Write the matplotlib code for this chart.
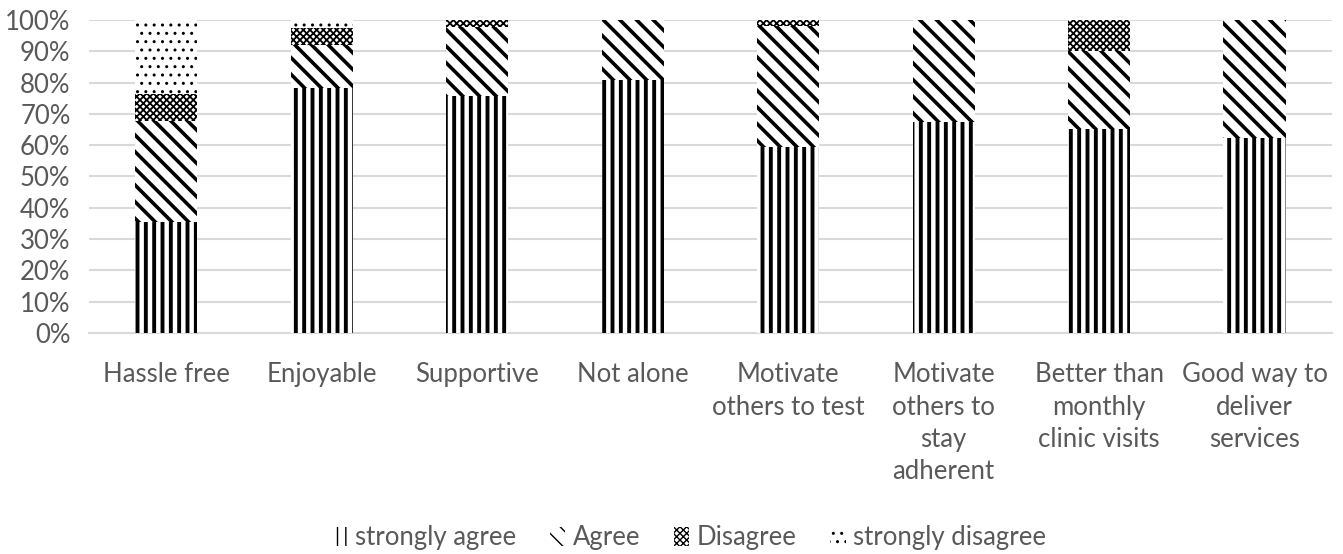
import matplotlib.pyplot as plt
import numpy as np

# categories and stacked percentages
categories = ["Hassle free", "Enjoyable", "Supportive", "Not alone",
              "Motivate\nothers to test", "Motivate\nothers to\nstay\nadherent",
              "Better than\nmonthly\nclinic visits", "Good way to\ndeliver\nservices"]
strongly_agree = [35.3, 78.3, 75.6, 80.8, 59.5, 67.5, 65.0, 62.2]
agree = [32.4, 13.8, 22.2, 19.2, 38.5, 32.5, 25.0, 37.8]
disagree = [8.8, 5.3, 2.2, 0.0, 2.0, 0.0, 10.0, 0.0]
strongly_disagree = [23.5, 2.6, 0.0, 0.0, 0.0, 0.0, 0.0, 0.0]

series_names = ["strongly agree", "Agree", "Disagree", "strongly disagree"]
hatches = ["||", "\\\\", "xxxxx", ".."]
hatch_lw = [2.8, 2.6, 1.3, 1.0]

plt.rcParams['font.family'] = ['Lato', 'DejaVu Sans']
plt.rcParams['hatch.color'] = 'black'

fig = plt.figure(figsize=(13.43, 5.54), dpi=100)
ax = fig.add_axes([0.066, 0.399, 0.926, 0.565])

x = np.arange(len(categories))
bottom = np.zeros(len(categories))
for vals, name, h, lw in zip([strongly_agree, agree, disagree, strongly_disagree],
                             series_names, hatches, hatch_lw):
    with plt.rc_context({'hatch.linewidth': lw}):
        ax.bar(x, vals, width=0.4, bottom=bottom, color='white', edgecolor='black',
               linewidth=0, hatch=h, label=name, zorder=3)
    bottom += np.array(vals)

ax.set_xlim(-0.5, len(categories) - 0.5)
ax.set_ylim(0, 100)
ax.set_yticks(range(0, 101, 10))
ax.set_yticklabels([f"{v}%" for v in range(0, 101, 10)])
ax.set_xticks(x)
ax.set_xticklabels(categories, linespacing=1.37)

ax.grid(axis='y', color='#d9d9d9', linewidth=1.5, zorder=0)
for s in ['top', 'right', 'left']:
    ax.spines[s].set_visible(False)
ax.spines['bottom'].set_color('#d9d9d9')
ax.spines['bottom'].set_linewidth(1.5)
ax.tick_params(axis='both', length=0, labelsize=18.5, colors='#595959')
ax.tick_params(axis='x', pad=21)
ax.tick_params(axis='y', pad=13)

leg = ax.legend(loc='center', bbox_to_anchor=(0.483, -0.655), ncol=4, frameon=False,
                fontsize=18.5, handlelength=0.6, handleheight=0.75, handletextpad=0.3,
                columnspacing=1.3, labelcolor='#595959', borderpad=0.2)

plt.savefig("out.png", dpi=100)
